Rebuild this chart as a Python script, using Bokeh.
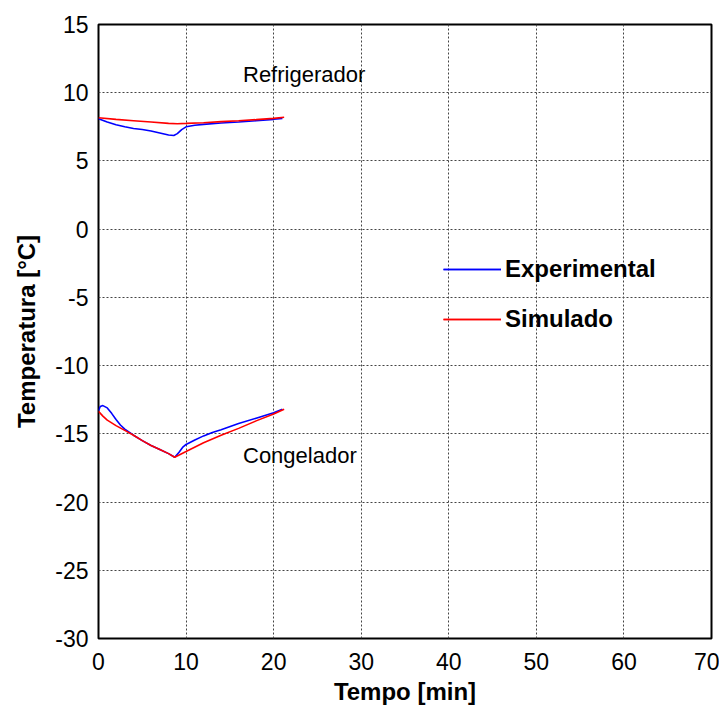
from bokeh.plotting import figure
from bokeh.models import Range1d, FixedTicker, Legend, LegendItem
from bokeh.core.properties import value
from bokeh.embed import file_html
from bokeh.resources import INLINE

# Refrigerador
ref_exp_t = [0, 1, 2, 3, 4, 5, 6, 7, 8, 8.6, 9.0, 9.5, 10, 11, 12, 14, 16, 18, 20, 21]
ref_exp_T = [8.1, 7.85, 7.65, 7.5, 7.38, 7.3, 7.2, 7.05, 6.9, 6.87, 7.0, 7.3, 7.5, 7.62, 7.68, 7.78, 7.85, 7.95, 8.05, 8.12]
ref_sim_t = [0, 2, 4, 6, 8, 9, 10, 12, 14, 16, 18, 20, 21.2]
ref_sim_T = [8.17, 8.05, 7.95, 7.85, 7.75, 7.73, 7.75, 7.8, 7.88, 7.95, 8.03, 8.12, 8.2]

# Congelador
con_exp_t = [0, 0.2, 0.5, 1, 1.5, 2, 2.5, 3, 4, 5, 6, 7, 8, 8.7, 9.2, 9.6, 10, 11, 12, 13, 14, 16, 18, 20, 21]
con_exp_T = [-13.3, -13.0, -12.93, -13.1, -13.5, -13.95, -14.35, -14.65, -15.1, -15.5, -15.85, -16.15, -16.45,
             -16.72, -16.35, -16.0, -15.78, -15.45, -15.15, -14.9, -14.7, -14.25, -13.85, -13.45, -13.2]
con_sim_t = [0, 0.5, 1, 2, 3, 4, 5, 6, 7, 8, 8.7, 10, 12, 14, 16, 18, 20, 21.2]
con_sim_T = [-13.35, -13.7, -14.0, -14.4, -14.75, -15.1, -15.5, -15.85, -16.15, -16.45, -16.72, -16.3,
             -15.65, -15.1, -14.6, -14.05, -13.55, -13.2]

x_ticks = [0, 10, 20, 30, 40, 50, 60, 70]
y_ticks = [15, 10, 5, 0, -5, -10, -15, -20, -25, -30]

annot_x = [16.5, 16.5]
annot_y = [11.35, -16.6]
annot_txt = ["Refrigerador", "Congelador"]

series_names = ["Experimental", "Simulado"]
series_colors = ["#0000FF", "#FF0000"]

FONT = "Liberation Sans"

p = figure(width=712, height=700, output_backend="svg", toolbar_location=None,
           x_range=Range1d(0, 70), y_range=Range1d(-30, 15),
           frame_width=613, frame_height=614,
           min_border_left=98, min_border_top=24, min_border_right=8, min_border_bottom=40)

p.xaxis.ticker = FixedTicker(ticks=x_ticks)
p.yaxis.ticker = FixedTicker(ticks=y_ticks)
p.xaxis.major_label_overrides = {t: str(t) for t in x_ticks}
p.yaxis.major_label_overrides = {t: str(t) for t in y_ticks}
for ax in (p.xaxis[0], p.yaxis[0]):
    ax.axis_line_color = None
    ax.major_tick_line_color = None
    ax.minor_tick_line_color = None
    ax.major_tick_out = 0
    ax.major_tick_in = 0
    ax.minor_tick_out = 0
    ax.major_label_text_font = FONT
    ax.major_label_text_font_size = "23px"
    ax.major_label_text_color = "black"
    ax.axis_label_text_font = FONT
    ax.axis_label_text_font_size = "24px"
    ax.axis_label_text_font_style = "bold"
    ax.axis_label_text_color = "black"

p.xaxis.axis_label = "Tempo [min]"
p.yaxis.axis_label = "Temperatura [°C]"
p.xaxis.major_label_standoff = 14
p.xaxis.axis_label_standoff = 5
p.yaxis.major_label_standoff = 10
p.yaxis.axis_label_standoff = 12

p.xgrid.grid_line_color = "#444444"
p.ygrid.grid_line_color = "#444444"
p.xgrid.grid_line_dash = "2 2"
p.ygrid.grid_line_dash = "2 2"
p.xgrid.grid_line_width = 1
p.ygrid.grid_line_width = 1

p.outline_line_color = "black"
p.outline_line_width = 2
p.background_fill_color = "white"
p.border_fill_color = "white"

r_ref_exp = p.line(ref_exp_t, ref_exp_T, line_color=series_colors[0], line_width=1.6)
r_ref_sim = p.line(ref_sim_t, ref_sim_T, line_color=series_colors[1], line_width=1.6)
r_con_exp = p.line(con_exp_t, con_exp_T, line_color=series_colors[0], line_width=1.6)
r_con_sim = p.line(con_sim_t, con_sim_T, line_color=series_colors[1], line_width=1.6)

p.text(x=annot_x, y=annot_y, text=annot_txt, text_font=value(FONT), text_font_size="22px",
       text_color="black", text_align="left", text_baseline="alphabetic")

legend = Legend(items=[LegendItem(label=series_names[0], renderers=[r_ref_exp, r_con_exp]),
                       LegendItem(label=series_names[1], renderers=[r_ref_sim, r_con_sim])],
                location=(345, 305), orientation="vertical",
                padding=0, margin=0, spacing=22,
                glyph_width=58, glyph_height=20, label_height=20, label_standoff=4,
                label_text_font=FONT, label_text_font_size="24px", label_text_font_style="bold",
                label_text_color="black",
                border_line_color=None, background_fill_alpha=0)
p.add_layout(legend, "center")

open("out.html", "w").write(file_html(p, INLINE))
